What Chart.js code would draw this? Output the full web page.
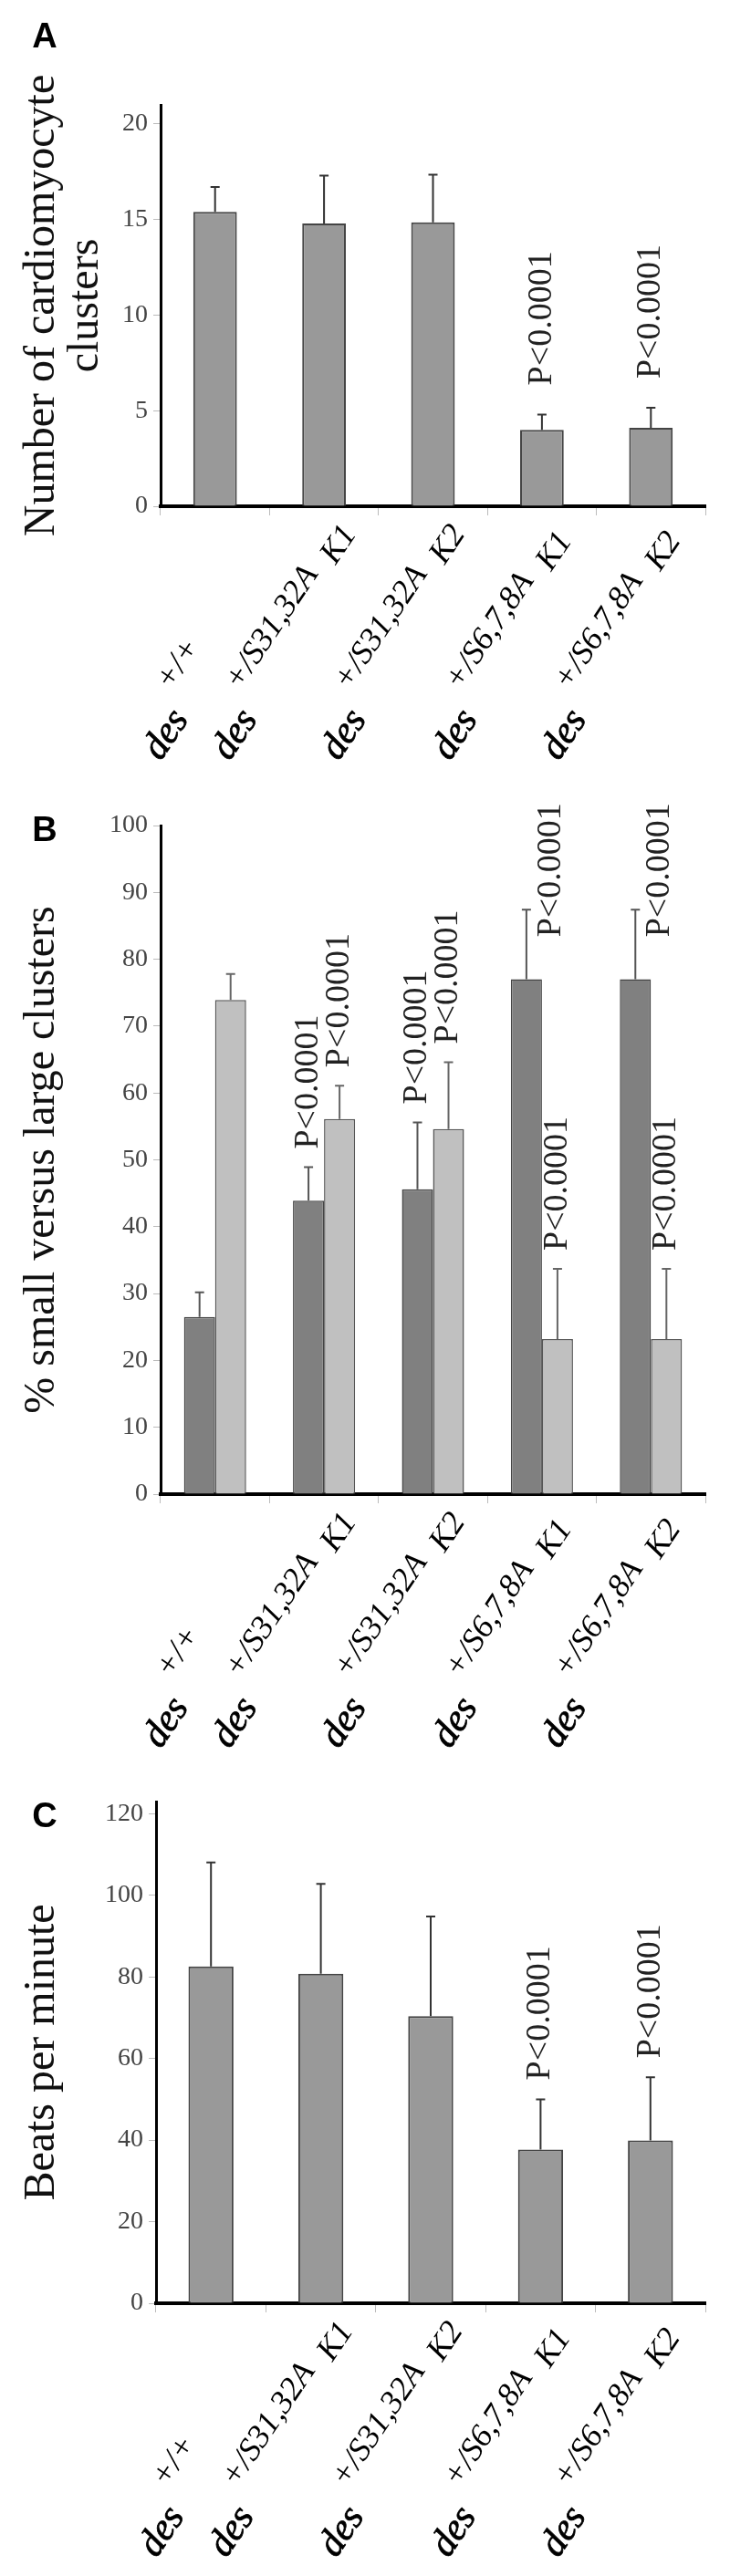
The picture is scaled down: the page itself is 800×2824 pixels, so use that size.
<!DOCTYPE html>
<html>
<head>
<meta charset="utf-8">
<script src="https://cdn.jsdelivr.net/npm/chart.js@4.4.1/dist/chart.umd.min.js"></script>
<style>
  html, body { margin: 0; padding: 0; background: #fff; }
  body { width: 800px; height: 2824px; position: relative; overflow: hidden; }
  .panel { position: absolute; left: 0; width: 800px; }
</style>
</head>
<body>
<div class="panel" style="top:0;height:880px"><canvas id="chartA"></canvas></div>
<div class="panel" style="top:845px;height:1105px"><canvas id="chartB"></canvas></div>
<div class="panel" style="top:1940px;height:884px"><canvas id="chartC"></canvas></div>
<script>
// category labels: genotype + allele (superscript) + clone
const genotype = ['des', 'des', 'des', 'des', 'des'];
const allele = ['+/+', '+/S31,32A', '+/S31,32A', '+/S6,7,8A', '+/S6,7,8A'];
const clone = ['', 'K1', 'K2', 'K1', 'K2'];
const categories = genotype.map((g, i) => [g, allele[i], clone[i]].join(' ').trim());

// A - number of cardiomyocyte clusters
const clusterCount = [15.4, 14.8, 14.85, 4.0, 4.1];
const clusterCountErr = [1.3, 2.5, 2.5, 0.8, 1.05];
const ticksA = [0, 5, 10, 15, 20];

// B - % small versus large clusters
const smallPct = [26.5, 43.9, 45.6, 77.0, 77.0];
const smallPctErr = [3.7, 5.0, 10.0, 10.4, 10.4];
const largePct = [73.9, 56.1, 54.6, 23.2, 23.2];
const largePctErr = [3.9, 5.0, 10.0, 10.5, 10.5];
const ticksB = [0, 10, 20, 30, 40, 50, 60, 70, 80, 90, 100];

// C - beats per minute
const beatsPerMin = [82.6, 80.8, 70.4, 37.7, 39.9];
const beatsPerMinErr = [25.5, 22.0, 24.4, 12.3, 15.5];
const ticksC = [0, 20, 40, 60, 80, 100, 120];

// significance marks: [dataset, category]
const pText = 'P<0.0001';
const pMarksA = [[0, 3], [0, 4]];
const pMarksB = [[0, 1], [1, 1], [0, 2], [1, 2], [0, 3], [1, 3], [0, 4], [1, 4]];
const pMarksC = [[0, 3], [0, 4]];

const serif = "'Liberation Serif', 'Times New Roman', serif";
const rot = 56 * Math.PI / 180;

const extras = {
  id: 'extras',
  afterDatasetsDraw(chart) {
    const ctx = chart.ctx, yS = chart.scales.y;
    chart.data.datasets.forEach((ds, di) => {
      chart.getDatasetMeta(di).data.forEach((bar, i) => {
        const top = yS.getPixelForValue(ds.data[i] + ds.err[i]);
        ctx.save();
        ctx.strokeStyle = ds.errColor;
        ctx.lineWidth = 2;
        ctx.beginPath();
        ctx.moveTo(bar.x, bar.y);
        ctx.lineTo(bar.x, top);
        ctx.moveTo(bar.x - 5, top);
        ctx.lineTo(bar.x + 5, top);
        ctx.stroke();
        ctx.restore();
      });
    });
  },
  afterDraw(chart, args, opts) {
    const ctx = chart.ctx, xS = chart.scales.x, yS = chart.scales.y, area = chart.chartArea;

    // panel letter
    ctx.save();
    ctx.fillStyle = '#000';
    ctx.font = "bold 38px 'Liberation Sans', Arial, sans-serif";
    ctx.textAlign = 'center';
    ctx.textBaseline = 'middle';
    ctx.fillText(opts.letter, 49, opts.letterY);
    ctx.restore();

    // P values, rotated, above the error bars
    ctx.save();
    ctx.font = '38px ' + serif;
    ctx.fillStyle = '#222';
    const len = ctx.measureText(pText).width;
    opts.pMarks.forEach(([di, i]) => {
      const ds = chart.data.datasets[di];
      const bar = chart.getDatasetMeta(di).data[i];
      const errTop = yS.getPixelForValue(ds.data[i] + ds.err[i]);
      let x = bar.x, bottom = errTop - opts.pGap;
      if (bottom - len < area.top - 30) {
        // no room above: put it beside the error bar
        x += 27;
        bottom = errTop + 30;
      }
      ctx.save();
      ctx.translate(x, bottom);
      ctx.rotate(-Math.PI / 2);
      ctx.textAlign = 'left';
      ctx.textBaseline = 'middle';
      ctx.fillText(pText, 0, 0);
      ctx.restore();
    });
    ctx.restore();

    // slanted category labels: des, then raised allele and clone
    const big = 'italic 42px ' + serif, small = 'italic 36px ' + serif;
    const lift = 34, kLift = 24, gap = 14, cos = Math.cos(rot), sin = Math.sin(rot);
    ctx.save();
    ctx.fillStyle = '#000';
    ctx.strokeStyle = '#000';
    ctx.lineWidth = 0.8;
    genotype.forEach((g, i) => {
      const cx = xS.getPixelForValue(i);
      ctx.font = big;
      const w1 = ctx.measureText(g).width;
      ctx.font = small;
      const w2 = ctx.measureText(allele[i]).width;
      const w3 = clone[i] ? ctx.measureText('  ' + clone[i]).width : 0;
      const supStart = w1 + gap;
      const left = Math.min(0, supStart * cos - (lift + 26) * sin);
      const right = Math.max(w1 * cos, (supStart + w2 + w3) * cos - kLift * sin);
      ctx.save();
      ctx.translate(cx - 39 - (left + right) / 2, area.bottom + 280);
      ctx.rotate(-rot);
      ctx.textAlign = 'left';
      ctx.textBaseline = 'alphabetic';
      ctx.font = big;
      ctx.fillText(g, 0, 0);
      ctx.strokeText(g, 0, 0);
      ctx.font = small;
      ctx.fillText(allele[i], supStart, -lift);
      if (clone[i]) ctx.fillText('  ' + clone[i], supStart + w2, -kLift);
      ctx.restore();
    });
    ctx.restore();
  }
};

function makeChart(id, cfg) {
  return new Chart(document.getElementById(id), {
    type: 'bar',
    data: { labels: categories, datasets: cfg.datasets },
    options: {
      responsive: true,
      maintainAspectRatio: false,
      animation: false,
      layout: { padding: { top: cfg.top, left: 0, right: 27, bottom: 0 } },
      plugins: {
        legend: { display: false },
        tooltip: { enabled: false },
        extras: { letter: cfg.letter, letterY: cfg.letterY, pMarks: cfg.pMarks, pGap: cfg.pGap }
      },
      scales: {
        x: {
          offset: true,
          grid: { drawOnChartArea: false, drawTicks: true, tickLength: 10, color: '#bbb', offset: true },
          border: { display: true, color: '#000', width: 4 },
          ticks: { display: false },
          afterFit(s) { s.height = cfg.xHeight; }
        },
        y: {
          min: 0,
          max: cfg.max,
          afterBuildTicks(s) { s.ticks = cfg.ticks.map(v => ({ value: v })); },
          ticks: { padding: 6, color: '#444', font: { family: serif, size: 28 } },
          grid: { drawOnChartArea: false, tickLength: 8, color: '#bbb' },
          border: { color: '#000', width: 3 },
          title: {
            display: true,
            text: cfg.title,
            color: '#111',
            font: { family: serif, size: 48, lineHeight: 1.0 },
            padding: { top: 22, bottom: 0 }
          },
          afterFit(s) { s.width = cfg.left; }
        }
      }
    },
    plugins: [extras]
  });
}

makeChart('chartA', {
  letter: 'A', letterY: 42, top: 115, xHeight: 325, left: 176, max: 21, ticks: ticksA,
  title: ['Number of cardiomyocyte', 'clusters'],
  pMarks: pMarksA, pGap: 32,
  datasets: [{
    data: clusterCount, err: clusterCountErr, errColor: '#333',
    backgroundColor: '#999999', borderColor: '#444', borderWidth: 2,
    categoryPercentage: 0.4, barPercentage: 1.0
  }]
});

makeChart('chartB', {
  letter: 'B', letterY: 67, top: 60, xHeight: 312, left: 176, max: 100, ticks: ticksB,
  title: '% small versus large clusters',
  pMarks: pMarksB, pGap: 20,
  datasets: [{
    data: smallPct, err: smallPctErr, errColor: '#555',
    backgroundColor: '#808080', borderColor: '#444', borderWidth: 1.5,
    categoryPercentage: 0.57, barPercentage: 1.0
  }, {
    data: largePct, err: largePctErr, errColor: '#666',
    backgroundColor: '#c0c0c0', borderColor: '#555', borderWidth: 1.5,
    categoryPercentage: 0.57, barPercentage: 1.0
  }]
});

makeChart('chartC', {
  letter: 'C', letterY: 53, top: 35, xHeight: 299, left: 171, max: 123, ticks: ticksC,
  title: 'Beats per minute',
  pMarks: pMarksC, pGap: 21,
  datasets: [{
    data: beatsPerMin, err: beatsPerMinErr, errColor: '#333',
    backgroundColor: '#999999', borderColor: '#444', borderWidth: 2,
    categoryPercentage: 0.41, barPercentage: 1.0
  }]
});
</script>
</body>
</html>
